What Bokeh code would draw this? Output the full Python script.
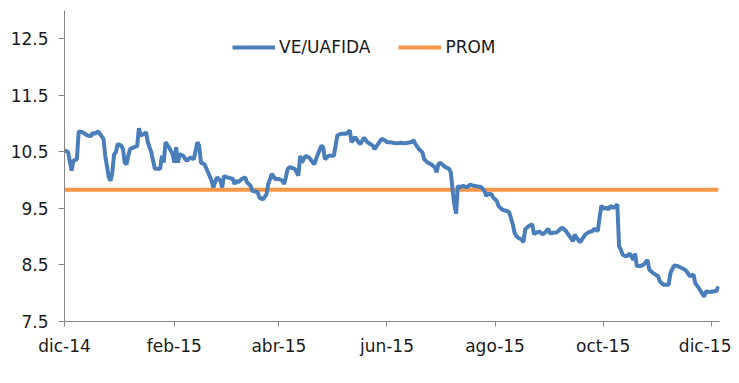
from datetime import datetime
import pandas as pd
from bokeh.plotting import figure
from bokeh.models import Range1d, FixedTicker
from bokeh.embed import file_html
from bokeh.resources import INLINE

# ---- data ----
dates = [
    "2014-12-01", "2014-12-03", "2014-12-05", "2014-12-06", "2014-12-08", "2014-12-09",
    "2014-12-11", "2014-12-14", "2014-12-16", "2014-12-17", "2014-12-18", "2014-12-20",
    "2014-12-21", "2014-12-23", "2014-12-24", "2014-12-26", "2014-12-27", "2014-12-28",
    "2014-12-29", "2014-12-30", "2014-12-31", "2015-01-02", "2015-01-03", "2015-01-04",
    "2015-01-05", "2015-01-06", "2015-01-07", "2015-01-09", "2015-01-11", "2015-01-12",
    "2015-01-13", "2015-01-15", "2015-01-16", "2015-01-17", "2015-01-19", "2015-01-21",
    "2015-01-22", "2015-01-24", "2015-01-25", "2015-01-26", "2015-01-27", "2015-01-29",
    "2015-01-31", "2015-02-01", "2015-02-02", "2015-02-03", "2015-02-04", "2015-02-06",
    "2015-02-08", "2015-02-10", "2015-02-12", "2015-02-14", "2015-02-15", "2015-02-16",
    "2015-02-18", "2015-02-20", "2015-02-22", "2015-02-23", "2015-02-25", "2015-02-27",
    "2015-02-28", "2015-03-01", "2015-03-03", "2015-03-06", "2015-03-07", "2015-03-08",
    "2015-03-09", "2015-03-11", "2015-03-13", "2015-03-14", "2015-03-16", "2015-03-17",
    "2015-03-20", "2015-03-21", "2015-03-23", "2015-03-25", "2015-03-26", "2015-03-28",
    "2015-03-30", "2015-04-01", "2015-04-03", "2015-04-04", "2015-04-06", "2015-04-07",
    "2015-04-09", "2015-04-10", "2015-04-12", "2015-04-13", "2015-04-14", "2015-04-16",
    "2015-04-18", "2015-04-21", "2015-04-23", "2015-04-25", "2015-04-26", "2015-04-27",
    "2015-04-29", "2015-05-02", "2015-05-04", "2015-05-06", "2015-05-09", "2015-05-11",
    "2015-05-12", "2015-05-14", "2015-05-16", "2015-05-17", "2015-05-19", "2015-05-21",
    "2015-05-24", "2015-05-25", "2015-05-27", "2015-05-29", "2015-05-31", "2015-06-01",
    "2015-06-03", "2015-06-06", "2015-06-09", "2015-06-11", "2015-06-14", "2015-06-15",
    "2015-06-16", "2015-06-17", "2015-06-19", "2015-06-21", "2015-06-22", "2015-06-24",
    "2015-06-26", "2015-06-27", "2015-06-28", "2015-06-29", "2015-06-30", "2015-07-01",
    "2015-07-02", "2015-07-04", "2015-07-06", "2015-07-07", "2015-07-08", "2015-07-09",
    "2015-07-10", "2015-07-11", "2015-07-12", "2015-07-14", "2015-07-16", "2015-07-18",
    "2015-07-20", "2015-07-22", "2015-07-24", "2015-07-26", "2015-07-27", "2015-07-28",
    "2015-07-30", "2015-07-31", "2015-08-02", "2015-08-03", "2015-08-05", "2015-08-06",
    "2015-08-08", "2015-08-09", "2015-08-11", "2015-08-12", "2015-08-13", "2015-08-14",
    "2015-08-16", "2015-08-17", "2015-08-18", "2015-08-19", "2015-08-20", "2015-08-22",
    "2015-08-23", "2015-08-24", "2015-08-26", "2015-08-28", "2015-08-30", "2015-08-31",
    "2015-09-01", "2015-09-03", "2015-09-05", "2015-09-07", "2015-09-08", "2015-09-10",
    "2015-09-12", "2015-09-14", "2015-09-15", "2015-09-16", "2015-09-18", "2015-09-19",
    "2015-09-21", "2015-09-23", "2015-09-25", "2015-09-26", "2015-09-28", "2015-09-29",
    "2015-09-30", "2015-10-01", "2015-10-03", "2015-10-04", "2015-10-05", "2015-10-07",
    "2015-10-09", "2015-10-10", "2015-10-11", "2015-10-12", "2015-10-14", "2015-10-16",
    "2015-10-17", "2015-10-18", "2015-10-19", "2015-10-20", "2015-10-22", "2015-10-24",
    "2015-10-26", "2015-10-27", "2015-10-29", "2015-11-01", "2015-11-02", "2015-11-04",
    "2015-11-06", "2015-11-07", "2015-11-08", "2015-11-10", "2015-11-12", "2015-11-14",
    "2015-11-16", "2015-11-17", "2015-11-19", "2015-11-21", "2015-11-22", "2015-11-24",
    "2015-11-26", "2015-11-27", "2015-11-28", "2015-11-30", "2015-12-02", "2015-12-04",
    "2015-12-05",
]

ve_uafida = [
    10.52, 10.50, 10.17, 10.34, 10.37, 10.86,
    10.85, 10.79, 10.78, 10.84, 10.82, 10.86,
    10.82, 10.73, 10.43, 10.05, 9.99, 10.14,
    10.46, 10.49, 10.64, 10.61, 10.55, 10.31,
    10.28, 10.43, 10.55, 10.58, 10.60, 10.92,
    10.79, 10.82, 10.85, 10.67, 10.49, 10.20,
    10.20, 10.20, 10.43, 10.31, 10.67, 10.58,
    10.46, 10.31, 10.58, 10.31, 10.46, 10.43,
    10.34, 10.40, 10.37, 10.67, 10.61, 10.31,
    10.28, 10.14, 9.99, 9.87, 10.05, 9.99,
    9.87, 10.07, 10.05, 10.02, 9.93, 9.99,
    9.96, 10.02, 10.05, 9.96, 9.90, 9.81,
    9.79, 9.69, 9.66, 9.75, 9.93, 10.11,
    10.02, 10.02, 9.99, 9.93, 10.20, 10.23,
    10.21, 10.20, 10.08, 10.43, 10.31, 10.43,
    10.40, 10.28, 10.46, 10.61, 10.58, 10.37,
    10.43, 10.43, 10.79, 10.82, 10.82, 10.88,
    10.67, 10.76, 10.67, 10.64, 10.75, 10.67,
    10.61, 10.55, 10.64, 10.73, 10.70, 10.67,
    10.67, 10.65, 10.66, 10.65, 10.67, 10.67,
    10.71, 10.64, 10.55, 10.49, 10.37, 10.31,
    10.28, 10.25, 10.23, 10.14, 10.28, 10.31,
    10.28, 10.23, 10.20, 10.14, 9.84, 9.57,
    9.41, 9.90, 9.87, 9.90, 9.87, 9.92,
    9.90, 9.89, 9.88, 9.81, 9.72, 9.76,
    9.75, 9.69, 9.63, 9.54, 9.48, 9.47,
    9.45, 9.43, 9.22, 9.07, 9.01, 8.98,
    8.95, 8.90, 9.13, 9.16, 9.19, 9.22,
    9.04, 9.07, 9.09, 9.04, 9.10, 9.14,
    9.06, 9.07, 9.08, 9.14, 9.16, 9.10,
    9.01, 8.92, 9.04, 8.98, 8.90, 8.95,
    9.04, 9.08, 9.10, 9.14, 9.10, 9.34,
    9.55, 9.50, 9.51, 9.48, 9.54, 9.51,
    9.57, 8.83, 8.77, 8.68, 8.65, 8.70,
    8.65, 8.59, 8.70, 8.48, 8.48, 8.51,
    8.59, 8.42, 8.36, 8.30, 8.21, 8.15,
    8.15, 8.15, 8.36, 8.49, 8.48, 8.45,
    8.42, 8.39, 8.30, 8.33, 8.18, 8.09,
    7.99, 7.94, 8.03, 8.02, 8.03, 8.04,
    8.12,
]

prom = 9.83

y_ticks = [7.5, 8.5, 9.5, 10.5, 11.5, 12.5]
x_tick_dates = ["2014-12-01", "2015-02-01", "2015-04-01", "2015-06-01",
                "2015-08-01", "2015-10-01", "2015-12-01"]
x_tick_labels = ["dic-14", "feb-15", "abr-15", "jun-15", "ago-15", "oct-15", "dic-15"]

# ---- build ----
x = pd.to_datetime(dates)
prom_line = [prom] * len(x)

FONT = "DejaVu Sans"
BLUE = "#4A7EBB"
ORANGE = "#F79646"
AXIS = "#868686"

p = figure(
    width=731, height=375,
    x_axis_type="datetime",
    x_range=Range1d(datetime(2014, 12, 1), datetime(2015, 12, 5, 16)),
    y_range=Range1d(7.5, 13.0),
    output_backend="svg", toolbar_location=None,
    min_border_left=64, min_border_right=12, min_border_top=10, min_border_bottom=54,
)
p.outline_line_color = None
p.xgrid.visible = False
p.ygrid.visible = False

p.line(x, prom_line, line_color=ORANGE, line_width=4, legend_label="PROM")
p.line(x, ve_uafida, line_color=BLUE, line_width=4, legend_label="VE/UAFIDA")

# y axis
p.yaxis.ticker = FixedTicker(ticks=y_ticks)
p.yaxis.axis_line_color = AXIS
p.yaxis.major_tick_line_color = AXIS
p.yaxis.major_tick_out = 6
p.yaxis.major_tick_in = 0
p.yaxis.minor_tick_line_color = None
p.yaxis.major_label_text_font = FONT
p.yaxis.major_label_text_font_size = "17px"
p.yaxis.major_label_text_color = "#1a1a1a"
p.yaxis.major_label_standoff = 10

# x axis
tick_ms = [pd.Timestamp(d).value // 10**6 for d in x_tick_dates]
p.xaxis.ticker = FixedTicker(ticks=tick_ms)
p.xaxis.major_label_overrides = {t: lab for t, lab in zip(tick_ms, x_tick_labels)}
p.xaxis.axis_line_color = AXIS
p.xaxis.major_tick_line_color = AXIS
p.xaxis.major_tick_out = 5
p.xaxis.major_tick_in = 0
p.xaxis.minor_tick_line_color = None
p.xaxis.major_label_text_font = FONT
p.xaxis.major_label_text_font_size = "17px"
p.xaxis.major_label_text_color = "#1a1a1a"
p.xaxis.major_label_standoff = 9

# legend
lg = p.legend[0]
lg.items = [lg.items[1], lg.items[0]]
lg.orientation = "horizontal"
lg.location = (168, 264)
lg.margin = 0
lg.padding = 0
lg.spacing = 28
lg.glyph_width = 43
lg.glyph_height = 20
lg.label_height = 20
lg.label_standoff = 4
lg.label_text_font = FONT
lg.label_text_font_size = "17px"
lg.label_text_color = "#1a1a1a"
lg.border_line_alpha = 0
lg.background_fill_alpha = 0

open("out.html", "w").write(file_html(p, INLINE))
